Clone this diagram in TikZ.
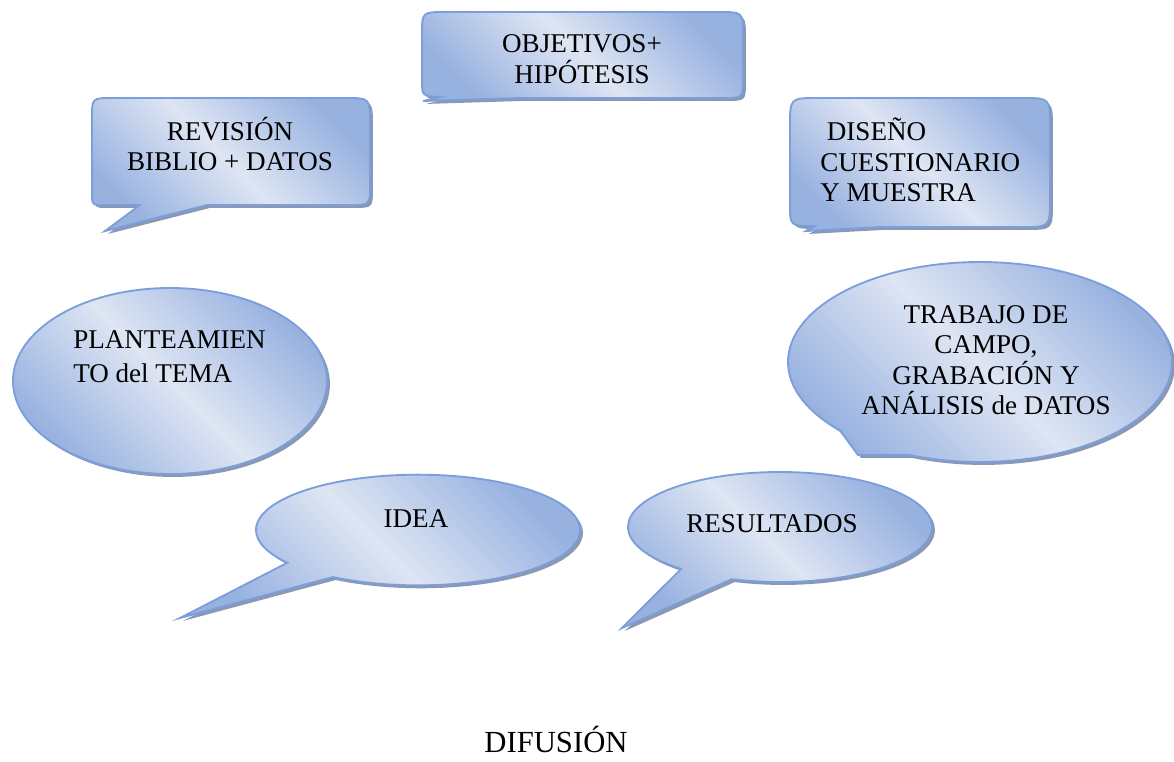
\documentclass[tikz,border=0pt]{standalone}
\usepackage{fontspec}
\setmainfont{Liberation Serif}
\usetikzlibrary{shapes.geometric,shapes.callouts,shadows}
\definecolor{bdark}{RGB}{152,178,224}
\definecolor{blight}{RGB}{222,229,243}
\definecolor{bline}{RGB}{124,158,218}
\definecolor{bshadow}{RGB}{138,152,178}
\tikzset{
  bubble/.style={draw=bline, line width=1.4pt, top color=bdark, bottom color=bdark,
    middle color=blight, shading angle=-45,
    drop shadow={shadow xshift=2.2pt, shadow yshift=-2.2pt, fill=bshadow, opacity=1}},
  lbl/.style={font=\fontsize{20.3pt}{22.8pt}\selectfont, inner sep=0pt, text=black},
}
\begin{document}
\begin{tikzpicture}[x=0.75pt,y=-0.75pt]
\useasboundingbox (0,0) rectangle (1174,761);
% OBJETIVOS + HIPOTESIS
\path[bubble] (422,34) .. controls (422,12) .. (446,12) -- (719,12)
  .. controls (743,12) .. (743,36) -- (743,78) .. controls (743,98) .. (723,98)
  -- (520,98) -- (423,101) -- (440,97) .. controls (422,96) .. (422,80) -- cycle;
\node[lbl, align=center] (obj) at (582,59) {OBJETIVOS+\\HIPÓTESIS};
% REVISION
\path[bubble] (92,118) .. controls (92,98) .. (112,98) -- (345,98)
  .. controls (370,98) .. (370,123) -- (370,185) .. controls (370,205) .. (350,205)
  -- (207,205) -- (105,231) -- (140,205) -- (104,205) .. controls (92,205) .. (92,193) -- cycle;
\node[lbl, align=center] (rev) at (230,144) {REVISIÓN\\BIBLIO + DATOS};
% DISENO
\path[bubble] (790,126) .. controls (790,98) .. (818,98) -- (1022,98)
  .. controls (1050,98) .. (1050,126) -- (1050,199) .. controls (1050,227) .. (1022,227)
  -- (880,227) -- (806,231) -- (815,226) .. controls (790,226) .. (790,205) -- cycle;
\node[lbl, align=left, anchor=west] (dis) at (820,160) {\hspace*{5pt}DISEÑO\\CUESTIONARIO\\Y MUESTRA};
% PLANTEAMIENTO
\node[bubble, ellipse, minimum width=235.5pt, minimum height=139.5pt, inner sep=0pt] (plant) at (170,381) {};
\node[lbl, align=left, anchor=west, font=\fontsize{20.3pt}{25.5pt}\selectfont] (plantt) at (73,357) {PLANTEAMIEN\\TO del TEMA};
% TRABAJO DE CAMPO
\node[bubble, ellipse callout, minimum width=288pt, minimum height=150pt, inner sep=0pt,
  callout absolute pointer={(858,455)}, callout pointer arc=25] (trab) at (980,362) {};
\node[lbl, align=center] (trabt) at (986,360) {TRABAJO DE\\CAMPO,\\GRABACIÓN Y\\ANÁLISIS de DATOS};
% IDEA
\node[bubble, ellipse callout, minimum width=243pt, minimum height=83pt, inner sep=0pt,
  callout absolute pointer={(180,618)}, callout pointer arc=22] (idea) at (418,530) {};
\node[lbl, anchor=base] (ideat) at (416,527) {IDEA};
% RESULTADOS
\node[bubble, ellipse callout, minimum width=228pt, minimum height=82.5pt, inner sep=0pt,
  callout absolute pointer={(622,628)}, callout pointer arc=22] (res) at (780,527) {};
\node[lbl, anchor=base] (rest) at (772,532) {RESULTADOS};
% DIFUSION
\node[lbl, anchor=base, font=\fontsize{23pt}{26pt}\selectfont] (dif) at (556,752) {DIFUSIÓN};
\end{tikzpicture}
\end{document}
